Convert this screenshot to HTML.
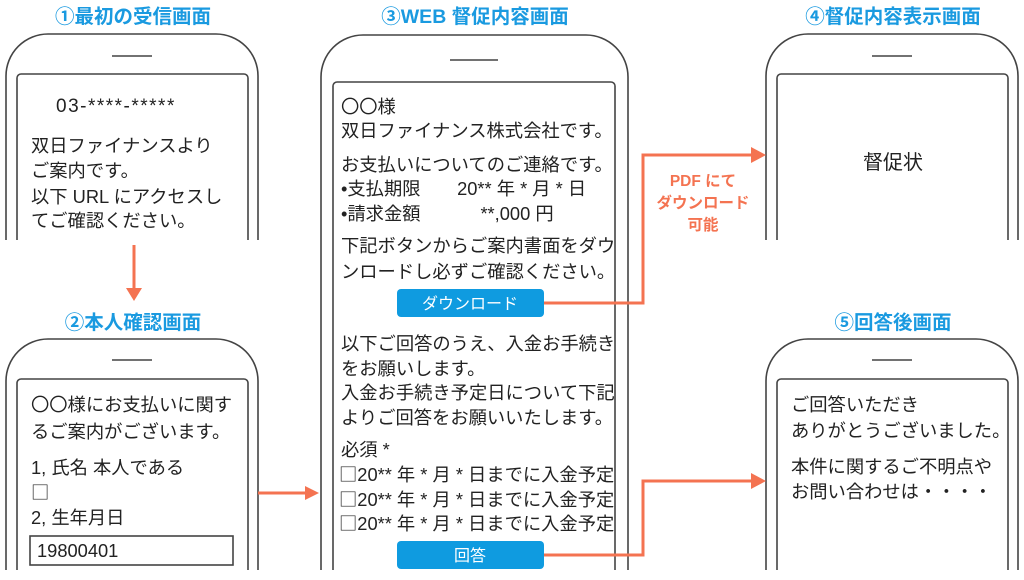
<!DOCTYPE html>
<html><head><meta charset="utf-8"><style>
html,body{margin:0;padding:0;background:#fff;width:1024px;height:580px;overflow:hidden}
svg text{font-family:"Liberation Sans","Noto Sans CJK JP",sans-serif}
.t{font-size:18.3px;fill:#222}
.h{font-size:19.5px;font-weight:bold;fill:#1a9ae0}
.o{font-size:15.5px;font-weight:bold;fill:#f47351}
.b{font-family:"Noto Sans CJK JP",sans-serif !important}
</style></head><body>
<svg width="1024" height="580" viewBox="0 0 1024 580" xmlns="http://www.w3.org/2000/svg">
<g fill="none" stroke="#444" stroke-width="1.6">
<path d="M6,240 V76 A42,42 0 0 1 48,34 H216 A42,42 0 0 1 258,76 V240"/>
<path d="M17,240 V78 A4,4 0 0 1 21,74 H244 A4,4 0 0 1 248,78 V240"/>
<line x1="112" y1="56" x2="152" y2="56"/>
<path d="M6,570 V381 A42,42 0 0 1 48,339 H216 A42,42 0 0 1 258,381 V570"/>
<path d="M17,570 V383 A4,4 0 0 1 21,379 H244 A4,4 0 0 1 248,383 V570"/>
<line x1="112" y1="360" x2="152" y2="360"/>
<rect x="30" y="536" width="203" height="29"/>
<path d="M321,570 V77 A42,42 0 0 1 363,35 H586 A42,42 0 0 1 628,77 V570"/>
<path d="M333,570 V86 A4,4 0 0 1 337,82 H611 A4,4 0 0 1 615,86 V570"/>
<line x1="450" y1="60" x2="498" y2="60"/>
<path d="M766,240 V76 A42,42 0 0 1 808,34 H976 A42,42 0 0 1 1018,76 V240"/>
<path d="M777,240 V78 A4,4 0 0 1 781,74 H1004 A4,4 0 0 1 1008,78 V240"/>
<line x1="872" y1="56" x2="912" y2="56"/>
<path d="M766,570 V381 A42,42 0 0 1 808,339 H976 A42,42 0 0 1 1018,381 V570"/>
<path d="M777,570 V383 A4,4 0 0 1 781,379 H1004 A4,4 0 0 1 1008,383 V570"/>
<line x1="872" y1="360" x2="912" y2="360"/>
</g>
<text class="h" x="133" y="23" text-anchor="middle">①最初の受信画面</text>
<text class="h" x="133" y="329" text-anchor="middle">②本人確認画面</text>
<text class="h" x="475" y="23" text-anchor="middle">③WEB 督促内容画面</text>
<text class="h" x="893" y="23" text-anchor="middle">④督促内容表示画面</text>
<text class="h" x="893" y="329" text-anchor="middle">⑤回答後画面</text>
<g stroke="#f47351" stroke-width="3" fill="none">
<line x1="134" y1="245" x2="134" y2="290"/>
<line x1="258" y1="493" x2="306" y2="493"/>
<polyline points="544,303 643,303 643,155 752,155"/>
<polyline points="544,555 643,555 643,481 752,481"/>
</g>
<g fill="#f47351">
<polygon points="126,288 142,288 134,301"/>
<polygon points="305,486 305,500 319,493"/>
<polygon points="751,147 751,163 766,155"/>
<polygon points="751,473 751,489 766,481"/>
</g>
<text class="o" x="703" y="186" text-anchor="middle">PDF にて</text>
<text class="o" x="703" y="208" text-anchor="middle">ダウンロード</text>
<text class="o" x="703" y="230" text-anchor="middle">可能</text>
<text class="t" x="56" y="112" style="font-size:19px" letter-spacing="1.5">03-****-*****</text>
<text class="t" x="31" y="152">双日ファイナンスより</text>
<text class="t" x="31" y="177">ご案内です。</text>
<text class="t" x="31" y="203">以下 URL にアクセスし</text>
<text class="t" x="31" y="227">てご確認ください。</text>
<text class="t" x="31" y="411">〇〇様にお支払いに関す</text>
<text class="t" x="31" y="438">るご案内がございます。</text>
<text class="t" x="31" y="474">1, 氏名 本人である</text>
<text class="t b" x="31" y="499">□</text>
<text class="t" x="31" y="524">2, 生年月日</text>
<text class="t" x="37" y="557">19800401</text>
<text class="t" x="341" y="113">〇〇様</text>
<text class="t" x="341" y="137">双日ファイナンス株式会社です。</text>
<text class="t" x="341" y="171">お支払いについてのご連絡です。</text>
<text class="t" x="341" y="195">•支払期限　　20** 年 * 月 * 日</text>
<text class="t" x="341" y="220">•請求金額　　　  **,000 円</text>
<text class="t" x="341" y="252">下記ボタンからご案内書面をダウ</text>
<text class="t" x="341" y="278">ンロードし必ずご確認ください。</text>
<rect x="397" y="289" width="147" height="28" rx="4" fill="#0f9be0"/>
<text x="470" y="309" text-anchor="middle" style="font-size:16px;fill:#fff">ダウンロード</text>
<text class="t" x="341" y="350">以下ご回答のうえ、入金お手続き</text>
<text class="t" x="341" y="375">をお願いします。</text>
<text class="t" x="341" y="399">入金お手続き予定日について下記</text>
<text class="t" x="341" y="424">よりご回答をお願いいたします。</text>
<text class="t" x="341" y="456">必須 *</text>
<text class="t" x="339" y="481"><tspan class="b">□</tspan>20** 年 * 月 * 日までに入金予定</text>
<text class="t" x="339" y="506"><tspan class="b">□</tspan>20** 年 * 月 * 日までに入金予定</text>
<text class="t" x="339" y="530"><tspan class="b">□</tspan>20** 年 * 月 * 日までに入金予定</text>
<rect x="397" y="541" width="147" height="28" rx="4" fill="#0f9be0"/>
<text x="470" y="561" text-anchor="middle" style="font-size:16px;fill:#fff">回答</text>
<text x="893" y="169" text-anchor="middle" style="font-size:20px;fill:#222">督促状</text>
<text class="t" x="791" y="411">ご回答いただき</text>
<text class="t" x="791" y="437">ありがとうございました。</text>
<text class="t" x="791" y="473">本件に関するご不明点や</text>
<text class="t" x="791" y="498">お問い合わせは・・・・</text>
</svg>
</body></html>
